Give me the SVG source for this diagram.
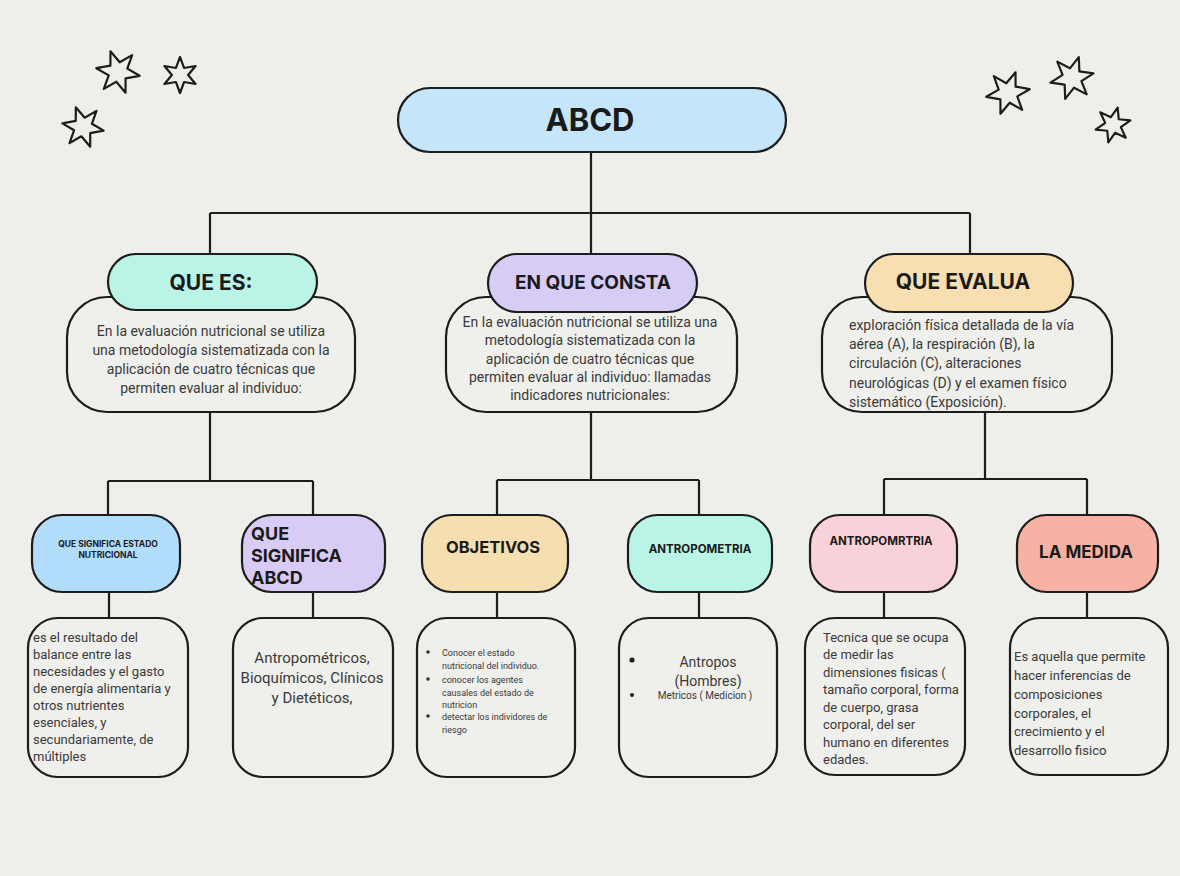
<svg xmlns="http://www.w3.org/2000/svg" width="1180" height="876" viewBox="0 0 1180 876">
<defs>
<style>
.bg{fill:#eeeeea}
.n{stroke:#1c1c1c;stroke-width:2.2}
.box{fill:#efefeb;stroke:#1c1c1c;stroke-width:2.2}
.hd{font-family:Inter,"Liberation Sans",Arial,sans-serif;font-weight:700;fill:#1a1a1a}
.tx{font-family:Roboto,"Liberation Sans",Arial,sans-serif;fill:#3a3a3a}
.c{text-anchor:middle}
.ln{stroke:#1c1c1c;stroke-width:2.2;fill:none}
.st{fill:none;stroke:#1c1c1c;stroke-width:2.2;stroke-linejoin:round}
</style>
<polygon id="star" points="0,-1 0.225,-0.39 0.866,-0.5 0.45,0 0.866,0.5 0.225,0.39 0,1 -0.225,0.39 -0.866,0.5 -0.45,0 -0.866,-0.5 -0.225,-0.39" vector-effect="non-scaling-stroke"/>
</defs>
<rect class="bg" x="0" y="0" width="1180" height="876"/>

<g id="stars" class="st">
<use href="#star" transform="translate(118,72) rotate(-20) scale(22)"/>
<use href="#star" transform="translate(180,75) rotate(0) scale(18)"/>
<use href="#star" transform="translate(83,127) rotate(-20) scale(21)"/>
<use href="#star" transform="translate(1008,93) rotate(20) scale(22)"/>
<use href="#star" transform="translate(1072,78) rotate(18) scale(22)"/>
<use href="#star" transform="translate(1113,125) rotate(15) scale(18)"/>
</g>

<g id="connectors" class="ln">
<path d="M591,152 V213 M210,213 H970 M210,213 V254 M591,213 V254 M970,213 V254"/>
<path d="M210,412 V481 M108,481 H313 M108,481 V515 M313,481 V515"/>
<path d="M591,412 V480 M497,480 H699 M497,480 V515 M699,480 V515"/>
<path d="M985,412 V479 M884,479 H1087 M884,479 V515 M1087,479 V515"/>
<path d="M109,592 V618 M313,592 V618 M497,592 V618 M699,592 V618 M884,592 V618 M1087,592 V618"/>
</g>

<g id="node-abcd">
<rect class="n" x="398" y="88" width="388" height="64" rx="32" fill="#c5e5fb"/>
<text class="hd c" x="590" y="131" font-size="31">ABCD</text>
</g>

<g id="node-que-es">
<rect class="box" x="67" y="297" width="288" height="115" rx="40"/>
<rect class="n" x="108" y="254" width="209" height="56" rx="28" fill="#b9f4e6"/>
<text class="hd c" x="211" y="290" font-size="21">QUE ES:</text>
<text class="tx c" font-size="14"><tspan x="211" y="336">En la evaluación nutricional se utiliza</tspan><tspan x="211" y="355">una metodología sistematizada con la</tspan><tspan x="211" y="374">aplicación de cuatro técnicas que</tspan><tspan x="211" y="393">permiten evaluar al individuo:</tspan></text>
</g>

<g id="node-en-que-consta">
<rect class="box" x="446" y="297" width="291" height="115" rx="40"/>
<rect class="n" x="488" y="254" width="209" height="58" rx="29" fill="#d7ccf6"/>
<text class="hd c" x="593" y="289" font-size="19">EN QUE CONSTA</text>
<text class="tx c" font-size="14"><tspan x="590" y="327">En la evaluación nutricional se utiliza una</tspan><tspan x="590" y="345">metodología sistematizada con la</tspan><tspan x="590" y="364">aplicación de cuatro técnicas que</tspan><tspan x="590" y="382">permiten evaluar al individuo: llamadas</tspan><tspan x="590" y="400">indicadores nutricionales:</tspan></text>
</g>

<g id="node-que-evalua">
<rect class="box" x="822" y="297" width="290" height="115" rx="40"/>
<rect class="n" x="865" y="254" width="208" height="58" rx="29" fill="#f7dfb1"/>
<text class="hd c" x="963" y="289" font-size="21">QUE EVALUA</text>
<text class="tx" font-size="14"><tspan x="849" y="330">exploración física detallada de la vía</tspan><tspan x="849" y="349">aérea (A), la respiración (B), la</tspan><tspan x="849" y="368">circulación (C), alteraciones</tspan><tspan x="849" y="388">neurológicas (D) y el examen físico</tspan><tspan x="849" y="407">sistemático (Exposición).</tspan></text>
</g>

<g id="node-estado-nutricional">
<rect class="n" x="32" y="515" width="148" height="77" rx="30" fill="#b1dcfa"/>
<text class="hd c" font-size="8.5" fill="#2a2a3a"><tspan x="108" y="547">QUE SIGNIFICA ESTADO</tspan><tspan x="108" y="558">NUTRICIONAL</tspan></text>
</g>
<g id="desc-estado-nutricional">
<rect class="box" x="28" y="618" width="160" height="159" rx="30"/>
<text class="tx" font-size="13"><tspan x="33" y="642">es el resultado del</tspan><tspan x="33" y="659">balance entre las</tspan><tspan x="33" y="676">necesidades y el gasto</tspan><tspan x="33" y="693">de energía alimentaria y</tspan><tspan x="33" y="710">otros nutrientes</tspan><tspan x="33" y="727">esenciales, y</tspan><tspan x="33" y="744">secundariamente, de</tspan><tspan x="33" y="761">múltiples</tspan></text>
</g>

<g id="node-significa-abcd">
<rect class="n" x="242" y="515" width="143" height="77" rx="30" fill="#d8ccf6"/>
<text class="hd" font-size="18"><tspan x="251" y="540">QUE</tspan><tspan x="251" y="562">SIGNIFICA</tspan><tspan x="251" y="584">ABCD</tspan></text>
</g>
<g id="desc-significa-abcd">
<rect class="box" x="233" y="618" width="160" height="159" rx="30"/>
<text class="tx c" font-size="15"><tspan x="312" y="663">Antropométricos,</tspan><tspan x="312" y="683">Bioquímicos, Clínicos</tspan><tspan x="312" y="703">y Dietéticos,</tspan></text>
</g>

<g id="node-objetivos">
<rect class="n" x="422" y="515" width="146" height="77" rx="30" fill="#f5dfb1"/>
<text class="hd c" x="493" y="553" font-size="16.5">OBJETIVOS</text>
</g>
<g id="desc-objetivos">
<rect class="box" x="417" y="618" width="158" height="159" rx="30"/>
<g fill="#333"><circle cx="428" cy="652" r="1.8"/><circle cx="428" cy="679" r="1.8"/><circle cx="428" cy="716" r="1.8"/></g>
<text class="tx" font-size="9"><tspan x="442" y="656">Conocer el estado</tspan><tspan x="442" y="669">nutricional del individuo.</tspan><tspan x="442" y="683">conocer los agentes</tspan><tspan x="442" y="696">causales del estado de</tspan><tspan x="442" y="708">nutricion</tspan><tspan x="442" y="720">detectar los individores de</tspan><tspan x="442" y="733">riesgo</tspan></text>
</g>

<g id="node-antropometria">
<rect class="n" x="628" y="515" width="144" height="77" rx="30" fill="#b9f4e6"/>
<text class="hd c" x="700" y="553" font-size="11.5">ANTROPOMETRIA</text>
</g>
<g id="desc-antropometria">
<rect class="box" x="619" y="618" width="158" height="159" rx="30"/>
<g fill="#222"><circle cx="632" cy="660" r="2.6"/><circle cx="632" cy="695" r="2"/></g>
<text class="tx c" font-size="14"><tspan x="708" y="667">Antropos</tspan><tspan x="708" y="686">(Hombres)</tspan></text>
<text class="tx c" x="705" y="699" font-size="10">Metricos ( Medicion )</text>
</g>

<g id="node-antropomrtria">
<rect class="n" x="810" y="515" width="147" height="77" rx="30" fill="#f9d2d9"/>
<text class="hd c" x="881" y="545" font-size="11.5">ANTROPOMRTRIA</text>
</g>
<g id="desc-antropomrtria">
<rect class="box" x="805" y="618" width="160" height="157" rx="30"/>
<text class="tx" font-size="13"><tspan x="823" y="642">Tecnica que se ocupa</tspan><tspan x="823" y="659">de medir las</tspan><tspan x="823" y="677">dimensiones fisicas (</tspan><tspan x="823" y="694">tamaño corporal, forma</tspan><tspan x="823" y="712">de cuerpo, grasa</tspan><tspan x="823" y="729">corporal, del ser</tspan><tspan x="823" y="747">humano en diferentes</tspan><tspan x="823" y="764">edades.</tspan></text>
</g>

<g id="node-la-medida">
<rect class="n" x="1017" y="515" width="141" height="77" rx="30" fill="#f7b2a4"/>
<text class="hd c" x="1086" y="558" font-size="17">LA MEDIDA</text>
</g>
<g id="desc-la-medida">
<rect class="box" x="1010" y="618" width="158" height="157" rx="30"/>
<text class="tx" font-size="13"><tspan x="1014" y="661">Es aquella que permite</tspan><tspan x="1014" y="680">hacer inferencias de</tspan><tspan x="1014" y="699">composiciones</tspan><tspan x="1014" y="718">corporales, el</tspan><tspan x="1014" y="736">crecimiento y el</tspan><tspan x="1014" y="755">desarrollo fisico</tspan></text>
</g>
</svg>
